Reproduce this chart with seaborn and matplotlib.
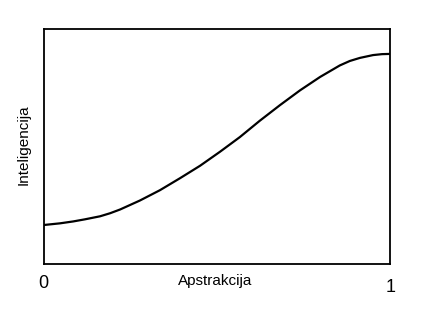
import matplotlib
matplotlib.use("Agg")
import matplotlib.pyplot as plt
import seaborn as sns
import pandas as pd

apstrakcija = [0.0, 0.046, 0.084, 0.118, 0.162, 0.191, 0.220, 0.277, 0.335, 0.393, 0.451, 0.509,
               0.566, 0.624, 0.682, 0.740, 0.798, 0.855, 0.884, 0.913, 0.951, 0.977, 1.0]
inteligencija = [0.166, 0.173, 0.181, 0.190, 0.203, 0.216, 0.232, 0.270, 0.314, 0.365, 0.418, 0.478,
                 0.540, 0.610, 0.676, 0.739, 0.796, 0.845, 0.864, 0.877, 0.889, 0.893, 0.894]
x_label = "Apstrakcija"
y_label = "Inteligencija"
end_labels = ["0", "1"]

sns.set_theme(style="white")
plt.rcParams['font.family'] = ['Liberation Sans', 'DejaVu Sans']

df = pd.DataFrame({"x": apstrakcija, "y": inteligencija})

fig = plt.figure(figsize=(4.31, 3.32), dpi=100)
ax = fig.add_axes([44 / 431, (332 - 264) / 332, 346 / 431, 235 / 332])
sns.lineplot(data=df, x="x", y="y", ax=ax, color="black", linewidth=1.6)
ax.set_xlim(0, 1)
ax.set_ylim(0, 1)
ax.set_xticks([])
ax.set_yticks([])
ax.set_xlabel("")
ax.set_ylabel("")
for s in ax.spines.values():
    s.set_color("black")
    s.set_linewidth(1.3)

fig.text(215 / 431, 1 - 281 / 332, x_label, ha="center", va="center", fontsize=11, color="black")
fig.text(24 / 431, 1 - 145 / 332, y_label, ha="center", va="center", rotation=90, fontsize=11, color="black")
fig.text(43 / 431, 1 - 283 / 332, end_labels[0], ha="center", va="center", fontsize=13, color="black")
fig.text(391 / 431, 1 - 288 / 332, end_labels[1], ha="center", va="center", fontsize=13, color="black")

fig.savefig("out.png", dpi=100)
